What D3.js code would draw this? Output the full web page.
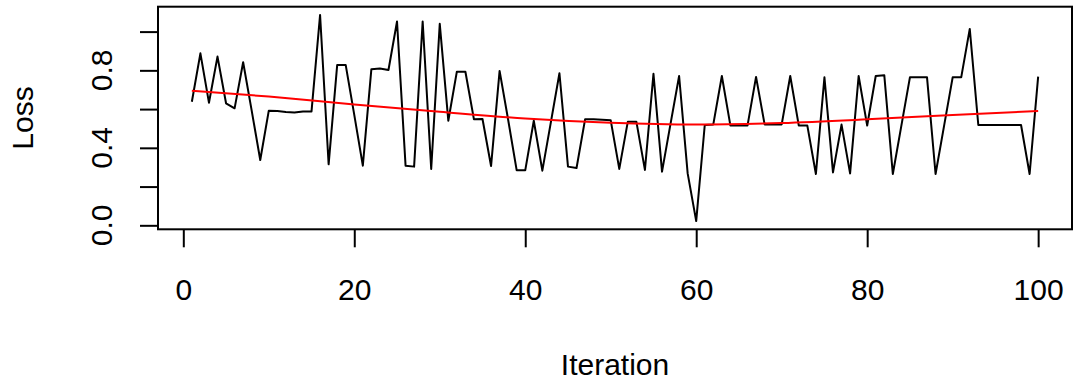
<!DOCTYPE html>
<html lang="en">
<head>
<meta charset="UTF-8">
<script src="https://d3js.org/d3.v7.min.js"></script>
<title>Loss by iteration</title>
<style>
    body { margin: 0; background: white; }
    svg { display: block; }
    text { font-family: "Liberation Sans", Arial, sans-serif; font-size: 30px; fill: black; }
</style>
</head>
<body>
<div class="chart"></div>
<script>
    // loss per iteration (iterations 1..100)
    const loss = [
        0.638, 0.888, 0.633, 0.871, 0.630, 0.604, 0.842, 0.592, 0.337, 0.592,
        0.590, 0.585, 0.582, 0.588, 0.588, 1.086, 0.315, 0.827, 0.827, 0.570,
        0.308, 0.806, 0.810, 0.802, 1.052, 0.308, 0.303, 1.052, 0.291, 1.040,
        0.540, 0.793, 0.793, 0.547, 0.549, 0.306, 0.797, 0.545, 0.284, 0.284,
        0.540, 0.282, 0.533, 0.785, 0.303, 0.296, 0.547, 0.547, 0.545, 0.542,
        0.291, 0.535, 0.535, 0.286, 0.782, 0.277, 0.525, 0.771, 0.268, 0.022,
        0.518, 0.521, 0.771, 0.515, 0.515, 0.515, 0.766, 0.521, 0.521, 0.521,
        0.771, 0.515, 0.515, 0.265, 0.764, 0.273, 0.520, 0.268, 0.771, 0.515,
        0.771, 0.775, 0.265, 0.515, 0.764, 0.764, 0.764, 0.265, 0.515, 0.764,
        0.764, 1.014, 0.518, 0.518, 0.518, 0.518, 0.518, 0.518, 0.265, 0.768
    ];

    // smoothed trend (red)
    const trendX = [1, 10, 20, 30, 40, 50, 60, 70, 80, 90, 100];
    const trendY = [0.695, 0.665, 0.624, 0.586, 0.551, 0.529, 0.520, 0.528, 0.547, 0.570, 0.590];

    const xTicks = [0, 20, 40, 60, 80, 100];
    const yTicks = [0.0, 0.2, 0.4, 0.6, 0.8, 1.0];
    const yLabelTicks = [0.0, 0.4, 0.8];

    const width = 1079;
    const height = 385;
    const box = {left: 158, right: 1072, top: 6.7, bottom: 229.3};
    const tickLen = 18;

    const svg = d3.select(".chart").append("svg")
        .attr("width", width)
        .attr("height", height);

    // R style: pad range by 4% each side
    const iters = loss.map((d, i) => i + 1);
    const xExt = d3.extent(iters);
    const xPad = (xExt[1] - xExt[0]) * 0.04;
    const yExt = d3.extent(loss);
    const yPad = (yExt[1] - yExt[0]) * 0.04;

    const x = d3.scaleLinear()
        .domain([xExt[0] - xPad, xExt[1] + xPad])
        .range([box.left, box.right]);
    const y = d3.scaleLinear()
        .domain([yExt[0] - yPad, yExt[1] + yPad])
        .range([box.bottom, box.top]);

    // loss line
    const line = d3.line()
        .x((d, i) => x(i + 1))
        .y(d => y(d));
    svg.append("path")
        .datum(loss)
        .attr("d", line)
        .attr("fill", "none")
        .attr("stroke", "black")
        .attr("stroke-width", 2)
        .attr("stroke-linejoin", "round");

    // trend line
    const trend = d3.line()
        .x(d => x(d[0]))
        .y(d => y(d[1]))
        .curve(d3.curveMonotoneX);
    svg.append("path")
        .datum(trendX.map((d, i) => [d, trendY[i]]))
        .attr("d", trend)
        .attr("fill", "none")
        .attr("stroke", "#ff0000")
        .attr("stroke-width", 2);

    // frame
    svg.append("rect")
        .attr("x", box.left)
        .attr("y", box.top)
        .attr("width", box.right - box.left)
        .attr("height", box.bottom - box.top)
        .attr("fill", "none")
        .attr("stroke", "black")
        .attr("stroke-width", 2);

    // x axis
    const xAxis = d3.axisBottom(x)
        .tickValues(xTicks)
        .tickSize(tickLen)
        .tickPadding(0)
        .tickFormat(d3.format("d"));
    const gx = svg.append("g")
        .attr("transform", `translate(0,${box.bottom})`)
        .call(xAxis);
    gx.select(".domain").remove();
    gx.selectAll(".tick line").attr("stroke", "black").attr("stroke-width", 2);
    gx.selectAll(".tick text")
        .attr("y", 300 - box.bottom)
        .attr("dy", null)
        .style("font-size", "30px")
        .style("font-family", "'Liberation Sans', Arial, sans-serif");

    // y axis
    const yAxis = d3.axisLeft(y)
        .tickValues(yTicks)
        .tickSize(tickLen)
        .tickFormat("");
    const gy = svg.append("g")
        .attr("transform", `translate(${box.left},0)`)
        .call(yAxis);
    gy.select(".domain").remove();
    gy.selectAll(".tick line").attr("stroke", "black").attr("stroke-width", 2);

    svg.selectAll(".ylab")
        .data(yLabelTicks)
        .enter()
        .append("text")
        .attr("class", "ylab")
        .attr("transform", d => `translate(111.7,${y(d)}) rotate(-90)`)
        .attr("text-anchor", "middle")
        .text(d => d3.format(".1f")(d));

    // axis titles
    svg.append("text")
        .attr("x", (box.left + box.right) / 2)
        .attr("y", 375)
        .attr("text-anchor", "middle")
        .text("Iteration");

    svg.append("text")
        .attr("transform", `translate(33.3,${(box.top + box.bottom) / 2}) rotate(-90)`)
        .attr("text-anchor", "middle")
        .text("Loss");
</script>
</body>
</html>
